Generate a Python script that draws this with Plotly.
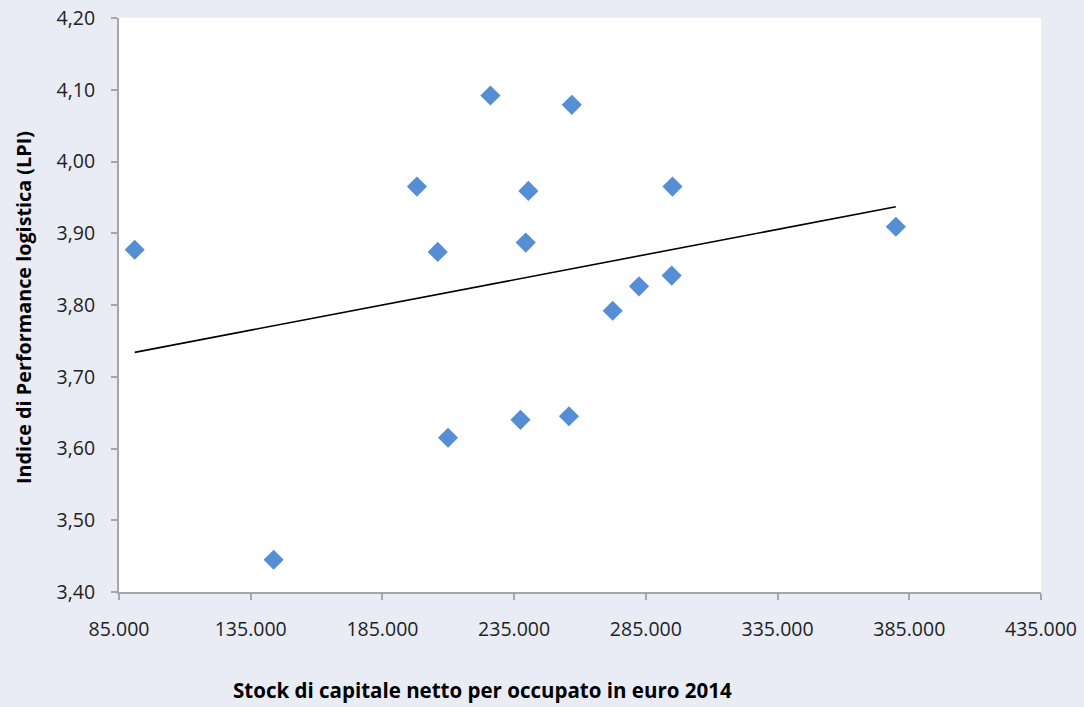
import numpy as np
import plotly.graph_objects as go

# Net capital stock per employed person (euro, 2014) and Logistics Performance Index
capitale = [90960, 143700, 198100, 206000, 209900, 226000, 237400, 239400,
            240400, 255800, 256900, 272400, 282400, 294800, 295100, 379900]
lpi = [3.877, 3.445, 3.965, 3.874, 3.615, 4.092, 3.640, 3.887,
       3.959, 3.645, 4.079, 3.792, 3.826, 3.841, 3.965, 3.909]

x_ticks = [85000, 135000, 185000, 235000, 285000, 335000, 385000, 435000]
x_tick_labels = ["85.000", "135.000", "185.000", "235.000",
                 "285.000", "335.000", "385.000", "435.000"]
y_ticks = [3.40, 3.50, 3.60, 3.70, 3.80, 3.90, 4.00, 4.10, 4.20]
y_tick_labels = ["3,40", "3,50", "3,60", "3,70", "3,80", "3,90", "4,00", "4,10", "4,20"]

x_title = "Stock di capitale netto per occupato in euro 2014"
y_title = "Indice di Performance logistica (LPI)"

# Linear trend line fitted on the points
slope, intercept = np.polyfit(capitale, lpi, 1)
trend_x = [min(capitale), max(capitale)]
trend_y = [slope * v + intercept for v in trend_x]

BG = "#E9ECF4"
AXIS = "#A6A6A6"
FONT = "Open Sans, DejaVu Sans, sans-serif"

fig = go.Figure()
fig.add_trace(go.Scatter(
    x=capitale, y=lpi, mode="markers",
    marker=dict(symbol="diamond", size=15.5, color="#558ED5", line=dict(width=0)),
    showlegend=False, hoverinfo="x+y",
))
fig.add_trace(go.Scatter(
    x=trend_x, y=trend_y, mode="lines",
    line=dict(color="black", width=1.6),
    showlegend=False, hoverinfo="skip",
))

fig.update_layout(
    width=1084, height=707,
    margin=dict(l=119, r=43, t=18, b=115),
    paper_bgcolor=BG, plot_bgcolor="white",
    font=dict(family=FONT, size=19, color="#222222"),
    xaxis=dict(
        range=[85000, 435000], tickmode="array",
        tickvals=x_ticks, ticktext=x_tick_labels,
        showgrid=False, zeroline=False, automargin=False,
        showline=True, linecolor=AXIS, linewidth=2,
        ticks="outside", ticklen=6, tickwidth=1.5, tickcolor=AXIS,
        ticklabelstandoff=13,
        tickfont=dict(family=FONT, size=19.5, color="#222222"),
    ),
    yaxis=dict(
        range=[3.40, 4.20], tickmode="array",
        tickvals=y_ticks, ticktext=y_tick_labels,
        showgrid=False, zeroline=False, automargin=False,
        showline=True, linecolor=AXIS, linewidth=2,
        ticks="outside", ticklen=6, tickwidth=1.5, tickcolor=AXIS,
        ticklabelstandoff=12,
        tickfont=dict(family=FONT, size=19.5, color="#222222"),
    ),
    annotations=[
        dict(text=f"<b>{x_title}</b>", xref="paper", yref="paper",
             x=(482 - 119) / (1041 - 119), y=(592 - 690) / (592 - 18),
             xanchor="center", yanchor="middle", showarrow=False,
             font=dict(family=FONT, size=20.5, color="black")),
        dict(text=f"<b>{y_title}</b>", xref="paper", yref="paper",
             x=(23 - 119) / (1041 - 119), y=(592 - 308) / (592 - 18), textangle=-90,
             xanchor="center", yanchor="middle", showarrow=False,
             font=dict(family=FONT, size=19.8, color="black")),
    ],
)

fig.write_html("out.html")
